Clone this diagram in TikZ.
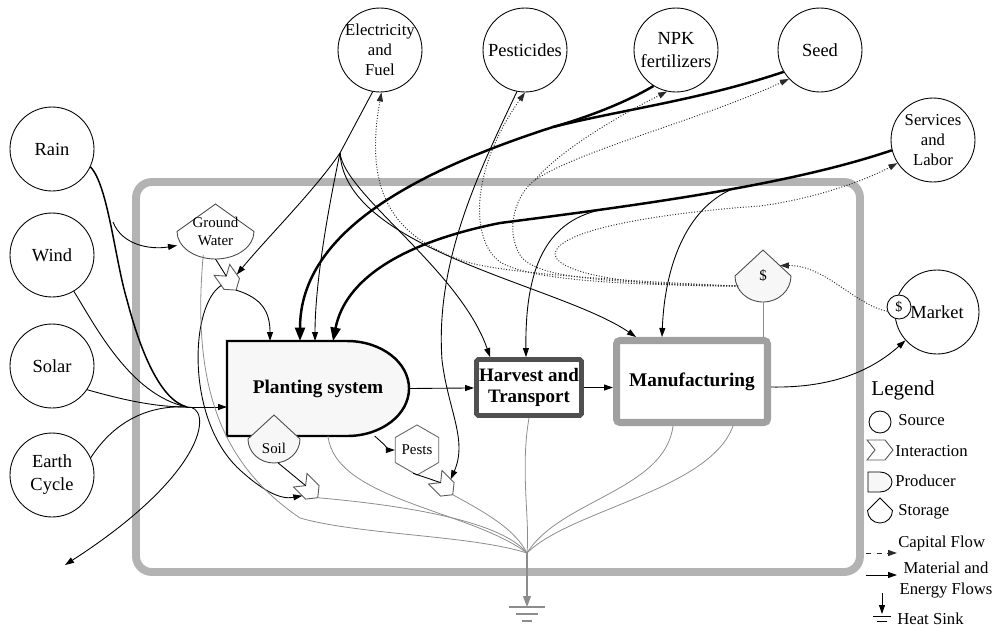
\documentclass[tikz,border=0pt]{standalone}
\usepackage{fontspec}
\setmainfont{Liberation Serif}
\usetikzlibrary{arrows.meta,calc,shapes.geometric,backgrounds}

\definecolor{bordergray}{HTML}{B3B3B3}
\definecolor{manuline}{HTML}{A0A0A0}
\definecolor{harvline}{HTML}{505050}
\definecolor{lightfill}{HTML}{F7F7F7}
\definecolor{sinkgray}{HTML}{8C8C8C}
\definecolor{capgray}{HTML}{2A2A2A}

\newcommand{\storagepath}[3]{(#1.north) -- (#1.east) arc[start angle=0, end angle=180, x radius=#2, y radius=#3] -- cycle}
\newcommand{\producerpath}[4]{(#1.north west) -- ++(#2,0) arc[start angle=-90, end angle=90, x radius=#3, y radius=#4] -- (#1.south west) -- cycle}

\tikzset{
  src/.style={draw, circle, line width=0.5pt, minimum size=1.68cm, inner sep=-2pt, align=center, font=\fontsize{10.5}{13}\selectfont},
  shapebox/.style={draw=none, rectangle, inner sep=0pt, outer sep=0pt},
  shapeline/.style={draw=black!70, line width=0.5pt, fill=lightfill},
  interline/.style={draw=black!65, line width=0.5pt, fill=white},
  flow/.style={line width=0.5pt, -{Triangle[length=1.8mm,width=1.2mm]}},
  bigflow/.style={line width=1.4pt, -{Triangle[length=2.7mm,width=2mm]}},
  capflow/.style={line width=0.55pt, capgray, densely dotted, -{Triangle[length=1.8mm,width=1.2mm]}},
  heat/.style={line width=0.45pt, sinkgray},
  legtext/.style={anchor=west, inner sep=0pt, font=\fontsize{9.5}{11.4}\selectfont},
  smalltext/.style={font=\fontsize{8.5}{10}\selectfont},
  pics/interact/.style={code={
    \draw[interline] (-13,-10) -- (5,-10) -- (13,0) -- (5,10) -- (-13,10) -- (-5,0) -- cycle;
    \coordinate (-tail) at (-5,0);
    \coordinate (-tip) at (13,0);
    \coordinate (-l) at (0,-10);
    \coordinate (-r) at (0,10);
  }}
}

\begin{document}
\begin{tikzpicture}[x=0.02cm, y=-0.02cm]
\useasboundingbox (0,0) rectangle (995,629);

% sources
\node[src] (rain) at (52,149) {Rain};
\node[src] (wind) at (52,255) {Wind};
\node[src] (solar) at (52,366) {Solar};
\node[src] (earth) at (52,475) {Earth\\Cycle};
\node[src, font=\fontsize{9.5}{11.4}\selectfont] (elec) at (380,50) {Electricity\\and\\Fuel};
\node[src] (pest) at (525,50) {Pesticides};
\node[src] (npk) at (676,50) {NPK\\fertilizers};
\node[src] (seed) at (820,50) {Seed};
\node[src, font=\fontsize{9.5}{11.4}\selectfont] (serv) at (933,140) {Services\\and\\Labor};
\node[src] (market) at (937,312) {Market};
\node[draw, circle, line width=0.5pt, fill=white, minimum size=0.48cm, inner sep=0pt, font=\fontsize{8}{9}\selectfont] (mdollar) at (899,307) {\$};

% system
\node[shapebox, minimum width=3.64cm, minimum height=1.9cm, font=\bfseries\fontsize{11}{13}\selectfont] (plant) at (318,388.5) {Planting system};
\node[draw=harvline, line width=2.8pt, rounded corners=1pt, minimum width=2.1cm, minimum height=1.12cm, inner sep=0pt, align=center, font=\bfseries\fontsize{10.8}{12}\selectfont] (harv) at (529,387.5) {Harvest and\\Transport};
\node[draw=manuline, line width=4pt, rounded corners=2pt, minimum width=3.02cm, minimum height=1.64cm, inner sep=0pt, font=\bfseries\fontsize{11}{13}\selectfont] (manu) at (692,381.5) {Manufacturing};
\node[shapebox, smalltext, minimum width=1.54cm, minimum height=1.1cm, align=center] (gw) at (215.5,231.5) {Ground\\Water};
\node[shapebox, smalltext, minimum width=1.04cm, minimum height=0.96cm, text height=17pt, text depth=0pt] (soil) at (274,439) {Soil};
\node[shapebox, smalltext, minimum width=1.12cm, minimum height=1.04cm] (dstore) at (763,276) {\$};
\node[draw=black!60, fill=white, line width=0.5pt, regular polygon, regular polygon sides=6, shape border rotate=30, minimum size=0.92cm, inner sep=0pt, smalltext] (pests) at (417,450) {Pests};

\begin{pgfonlayer}{background}
  \draw[bordergray, line width=4.5pt, rounded corners=9pt] (136,182) rectangle (860,572);
  \draw[line width=1.4pt, fill=lightfill] \producerpath{plant}{120}{62}{47.5};
  \draw[shapeline, fill=white] \storagepath{gw}{38.5}{27.5};
  \draw[shapeline] \storagepath{soil}{26}{24};
  \draw[shapeline] \storagepath{dstore}{28}{26};
\end{pgfonlayer}

\pic[rotate=-55, scale=0.95] (gwi) at (229,280) {interact};
\pic[rotate=-45, scale=0.95] (soili) at (309,489) {interact};
\pic[rotate=-45, scale=0.95] (pesti) at (444,486) {interact};

\coordinate (jn) at (187,407);
\coordinate (out) at (65,565);
\coordinate (rainbr) at (113,222);
\coordinate (eb) at (340,153);
\coordinate (tj) at (553,127);
\coordinate (sj) at (500,223);
\coordinate (sb1) at (600,210);
\coordinate (sb2) at (735,188);
\coordinate (nj) at (535,180);
\coordinate (dsrc) at ($(dstore.west)+(3,10)$);
\coordinate (sink) at (527,553);
\coordinate (gnd) at (527,607);

% natural inputs
\draw[line width=0.85pt] (rain.-25) .. controls (108,185) and (115,260) .. (127,300) .. controls (140,350) and (160,400) .. (jn);
\draw[flow] (rainbr) .. controls (122,245) and (150,250) .. (gw.200);
\draw[line width=0.5pt] (wind.-59) .. controls (95,325) and (130,395) .. (jn);
\draw[line width=0.5pt] (solar.-34) .. controls (130,402) and (160,407) .. (jn);
\draw[line width=0.5pt] (earth.24) .. controls (115,420) and (150,405) .. (jn);
\draw[flow] (jn) -- (plant.west |- jn);
\draw[flow] (jn) .. controls (212,405) and (212,470) .. (out);

% water, soil, pests
\draw[line width=0.5pt] (gw.south) -- (gwi-tail);
\draw[flow] (gwi-tip) .. controls (262,298) and (270,312) .. ($(plant.north west)+(43,0)$);
\draw[flow] (gwi-r) .. controls (190,305) and (185,420) .. (240,470) .. controls (262,490) and (280,500) .. (soili-r);
\draw[line width=0.5pt] (soil.-80) -- (soili-tail);
\draw[flow] (plant.-40) .. controls (385,445) and (390,450) .. (pests.west);
\draw[line width=0.5pt] (pests.-100) -- (pesti-tail);

% main chain
\draw[flow] (plant.east) -- (harv);
\draw[flow] (harv.east) -- (manu.west |- harv.east);
\draw[flow] (manu.-4) .. controls (830,388) and (870,372) .. (market.-138);

% purchased inputs
\draw[line width=1.4pt] (npk.-122) .. controls (625,103) and (585,118) .. (tj);
\draw[bigflow] (seed.-149) .. controls (700,100) and (620,110) .. (tj) .. controls (420,170) and (300,230) .. ($(plant.north west)+(73,0)$);
\draw[bigflow] (serv.-166) .. controls (790,185) and (640,205) .. (sj) .. controls (400,243) and (345,280) .. ($(plant.north west)+(106,0)$);
\draw[flow] (sb1) .. controls (545,222) and (525,270) .. ($(harv.north)+(-3,0)$);
\draw[flow] (sb2) .. controls (690,205) and (665,260) .. ($(manu.north)+(-30,0)$);
\draw[line width=0.5pt] (elec.-100) -- (eb);
\draw[flow] (eb) .. controls (315,190) and (265,240) .. (gwi-l);
\draw[flow] (eb) .. controls (330,200) and (315,280) .. ($(plant.north west)+(88,0)$);
\draw[flow] (eb) .. controls (345,195) and (460,270) .. ($(harv.north west)+(16,0)$);
\draw[flow] (eb) .. controls (345,250) and (560,285) .. ($(manu.north west)+(23,0)$);
\draw[flow] (pest.-101) .. controls (480,170) and (435,260) .. (442,360) .. controls (448,410) and (468,440) .. (pesti-l);

% capital
\draw[capflow] (mdollar.200) .. controls (855,305) and (825,265) .. ($(dstore.north)!0.6!(dstore.east)$);
\draw[capflow] (dsrc) .. controls (600,280) and (500,272) .. (467,262) .. controls (400,240) and (362,200) .. (elec.-88);
\draw[capflow] (dsrc) .. controls (620,285) and (530,280) .. (500,262) .. controls (470,240) and (470,170) .. (pest.-90);
\draw[capflow] (dsrc) .. controls (600,282) and (535,278) .. (520,255) .. controls (505,230) and (515,195) .. (nj) .. controls (560,150) and (620,115) .. (npk.-102);
\draw[capflow] (nj) .. controls (580,150) and (700,120) .. (seed.-137);
\draw[capflow] (dsrc) .. controls (640,287) and (560,275) .. (555,255) .. controls (555,225) and (700,210) .. (760,206) .. controls (820,198) and (870,178) .. (serv.-147);

% heat sink
\draw[heat] ($(gw.-114)+(0,-4)$) .. controls (190,400) and (230,470) .. (300,518) .. controls (360,535) and (470,535) .. (sink);
\draw[heat] ($(plant.south)+(10,0)$) .. controls (335,500) and (470,510) .. (sink);
\draw[heat] (soili-tip) .. controls (400,505) and (500,520) .. (sink);
\draw[heat] (pesti-tip) .. controls (490,515) and (515,530) .. (sink);
\draw[heat] (harv.south) .. controls (520,470) and (530,520) .. (sink);
\draw[heat] ($(manu.south)+(-19,0)$) .. controls (665,490) and (560,500) .. (sink);
\draw[heat] ($(manu.south)+(41,0)$) .. controls (710,490) and (570,510) .. (sink);
\draw[heat] (dstore.south) -- (manu.north -| dstore.south);
\draw[heat, line width=0.6pt, -{Triangle[length=2.2mm,width=1.6mm]}] (sink) -- (gnd);
\draw[heat, line width=0.6pt] ($(gnd)+(-18,0)$) -- ($(gnd)+(18,0)$) ($(gnd)+(-11,7)$) -- ($(gnd)+(11,7)$) ($(gnd)+(-5,14)$) -- ($(gnd)+(5,14)$);

% legend
\node[inner sep=0pt, font=\fontsize{12}{14}\selectfont] (legend) at (903,390) {Legend};
\node[draw, circle, line width=0.5pt, minimum size=0.44cm, inner sep=0pt] (lsrc) at (880,422) {};
\node[legtext] (lsrc-t) at (898,420) {Source};
\pic (lint) at (880,450) {interact};
\node[legtext] (lint-t) at (895,451) {Interaction};
\node[shapebox, minimum width=0.48cm, minimum height=0.4cm] (lprod) at (880,482) {};
\node[legtext] (lprod-t) at (895,481) {Producer};
\node[shapebox, minimum width=0.5cm, minimum height=0.5cm] (lstor) at (880,510.5) {};
\node[legtext] (lstor-t) at (898,512) {Storage};
\draw[line width=0.5pt, fill=lightfill] \producerpath{lprod}{12}{12}{10};
\draw[line width=0.5pt, fill=white] \storagepath{lstor}{12.5}{12.5};
\coordinate (lcap-a) at (866,553);
\coordinate (lcap-b) at (897,553);
\node[legtext] (lcap-t) at (898,543) {Capital Flow};
\coordinate (lmat-a) at (866,575);
\coordinate (lmat-b) at (897,575);
\node[align=center, inner sep=0pt, font=\fontsize{9.5}{11.4}\selectfont] (lmat-t) at (946,580) {Material and\\Energy Flows};
\coordinate (lheat-a) at (882,593);
\coordinate (lheat-b) at (882,614);
\node[legtext] (lheat-t) at (897,619) {Heat Sink};
\draw[capflow, dashed] (lcap-a) -- (lcap-b);
\draw[flow] (lmat-a) -- (lmat-b);
\draw[flow] (lheat-a) -- (lheat-b);
\draw[line width=0.5pt] ($(lheat-b)+(-9,2)$) -- ($(lheat-b)+(9,2)$) ($(lheat-b)+(-5,7)$) -- ($(lheat-b)+(5,7)$);
\end{tikzpicture}
\end{document}
